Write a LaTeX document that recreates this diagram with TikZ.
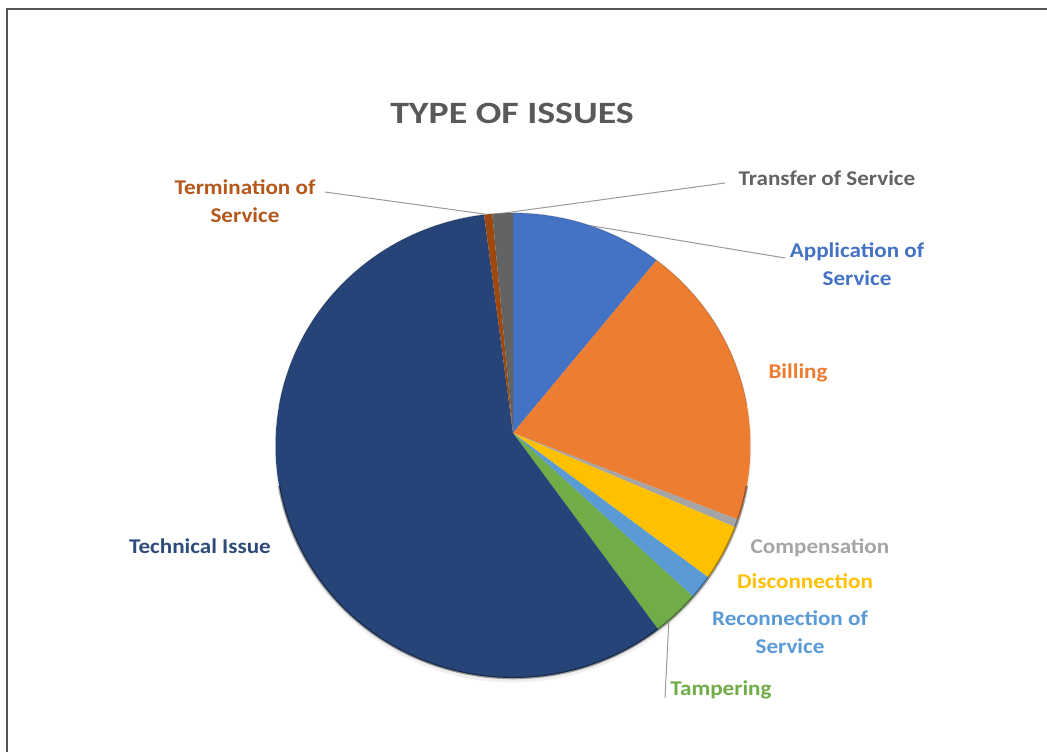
\documentclass[tikz,border=0pt]{standalone}
\usepackage{fontspec}
\setmainfont{Carlito}[FakeStretch=1.1]
\newfontfamily\titlefont{Carlito}[FakeStretch=1.22]
\usetikzlibrary{calc}
\definecolor{cApp}{HTML}{4472C4}
\definecolor{cBill}{HTML}{ED7D31}
\definecolor{cComp}{HTML}{A5A5A5}
\definecolor{cDisc}{HTML}{FFC000}
\definecolor{cRecon}{HTML}{5B9BD5}
\definecolor{cTamp}{HTML}{70AD47}
\definecolor{cTech}{HTML}{264478}
\definecolor{cTerm}{HTML}{9E480E}
\definecolor{cTrans}{HTML}{636363}
\definecolor{cTermTxt}{HTML}{B5581C}
\definecolor{cTechTxt}{HTML}{2F4B7C}
\definecolor{cTitle}{HTML}{595959}
\definecolor{cLead}{HTML}{9A9A9A}
\definecolor{cFrame}{HTML}{555555}
\newcommand{\pieslice}[3]{\fill[#3] (V) -- ($(C)+(#1:237.5 and 232.5)$) arc[start angle=#1,end angle=#2,x radius=237.5,y radius=232.5] -- cycle;}
\tikzset{
  lab/.style={font=\fontsize{21}{28}\selectfont\bfseries, align=center, inner sep=0pt},
  ttl/.style={font=\titlefont\fontsize{31}{34}\selectfont\bfseries, text=cTitle, inner sep=0pt},
  lead/.style={draw=cLead, line width=1pt},
  frame/.style={draw=cFrame, line width=2pt}
}
\begin{document}
\begin{tikzpicture}[x=1pt,y=1pt]
\useasboundingbox (0,0) rectangle (1047,752);
\fill[white] (0,0) rectangle (1047,752);
\draw[frame] (7,0) -- (7,743) -- (1048,743);

\coordinate (V) at (513,319);
\coordinate (C) at (513,306.5);

% soft shadow under the pie
\fill[black, opacity=0.06] ($(C)+(0,-3)$) ellipse [x radius=238.5, y radius=234];

\pieslice{90}{52.8}{cApp}
\pieslice{52.8}{-18.6}{cBill}
\pieslice{-18.6}{-20.6}{cComp}
\pieslice{-20.6}{-34.6}{cDisc}
\pieslice{-34.6}{-40.6}{cRecon}
\pieslice{-40.6}{-52.3}{cTamp}
\pieslice{-52.3}{-263}{cTech}
\pieslice{97}{95}{cTerm}
\pieslice{95}{90}{cTrans}

% bevel rim
\draw[black, opacity=0.35, line width=2.5pt] ($(C)+(-10:237.5 and 232.5)$) arc[start angle=-10,end angle=-170,x radius=237.5,y radius=232.5];
\draw[black, opacity=0.15, line width=1.2pt] ($(C)+(170:237.5 and 232.5)$) arc[start angle=170,end angle=10,x radius=237.5,y radius=232.5];

% title
\node[ttl] (title) at (512,639) {TYPE OF ISSUES};

% labels
\node[lab, text=cTermTxt] (term) at (245,551) {Termination of\\Service};
\node[lab, text=cTrans] (trans) at (827,574) {Transfer of Service};
\node[lab, text=cApp] (app) at (857,488) {Application of\\Service};
\node[lab, text=cBill] (bill) at (798,379) {Billing};
\node[lab, text=cComp] (comp) at (820,204) {Compensation};
\node[lab, text=cDisc] (disc) at (805,171) {Disconnection};
\node[lab, text=cRecon] (recon) at (790,119.5) {Reconnection of\\Service};
\node[lab, text=cTamp] (tamp) at (721,62) {Tampering};
\node[lab, text=cTechTxt] (tech) at (200,206) {Technical Issue};

% leader line end points
\coordinate (termL) at (325,560);
\coordinate (termP) at ($(C)+(96.3:237.5 and 232.5)$);
\coordinate (transL) at (725,569);
\coordinate (transP) at ($(C)+(92.5:237.5 and 232.5)$);
\coordinate (appP) at ($(C)+(71:237.5 and 232.5)$);
\coordinate (appL) at (785,494);
\coordinate (tampP) at ($(C)+(-49:237.5 and 232.5)$);
\coordinate (tampL) at (665,54);

\draw[lead] (termL) -- (termP);
\draw[lead] (transL) -- (transP);
\draw[lead] (appP) -- (appL);
\draw[lead] (tampP) -- (tampL);
\end{tikzpicture}
\end{document}
